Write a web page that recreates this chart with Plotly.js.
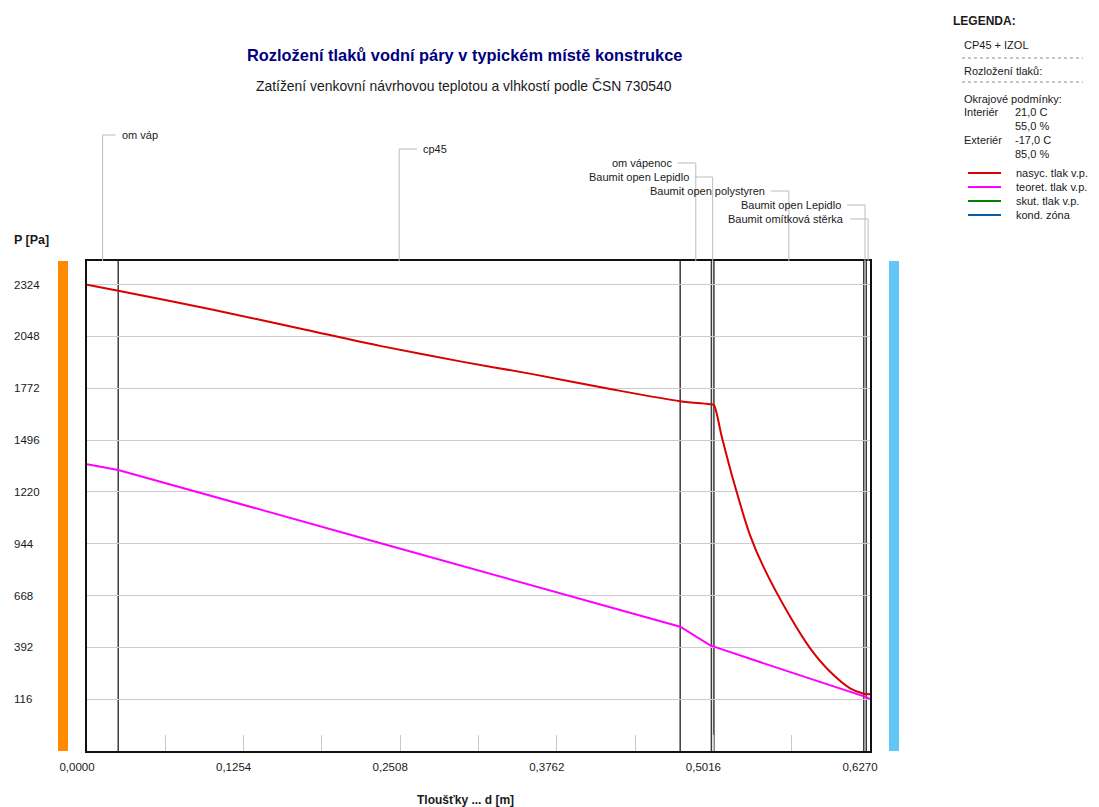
<!DOCTYPE html>
<html>
<head>
<meta charset="utf-8">
<script src="https://cdn.plot.ly/plotly-3.0.1.min.js"></script>
<style>
  html, body { margin: 0; padding: 0; background: #ffffff; }
  #chart { width: 1099px; height: 807px; }
</style>
</head>
<body>
<div id="chart"></div>
<script>
// Construction layers from interior to exterior, thickness in metres
const layerNames = ['om váp', 'cp45', 'om vápenoc', 'Baumit open Lepidlo',
                    'Baumit open polystyren', 'Baumit open Lepidlo', 'Baumit omítková stěrka'];
const layerThickness = [0.025, 0.45, 0.025, 0.002, 0.12, 0.002, 0.003];

// Saturated water vapour pressure [Pa] across the wall
const satDepth    = [0, 0.025, 0.1, 0.175, 0.2346, 0.3, 0.3547, 0.42, 0.475, 0.5, 0.502,
                     0.5083, 0.5175, 0.5309, 0.5416, 0.5631, 0.5791, 0.5951, 0.6111, 0.622, 0.624, 0.627];
const satPressure = [2324, 2292, 2192, 2084, 1998, 1914, 1850, 1767, 1703, 1686, 1683,
                     1514, 1283, 990, 822, 555, 387, 262, 174, 145, 143, 142];

// Theoretical water vapour pressure [Pa] across the wall
const theoDepth    = [0, 0.025, 0.2266, 0.475, 0.5, 0.502, 0.5523, 0.622, 0.624, 0.627];
const theoPressure = [1367, 1337, 963, 502, 399, 396, 284, 134, 127, 116];

// Axis ticks
const xTickVals = [0, 0.0627, 0.1254, 0.1881, 0.2508, 0.3135, 0.3762, 0.4389, 0.5016, 0.5643, 0.627];
const yTickVals = [116, 392, 668, 944, 1220, 1496, 1772, 2048, 2324];

// Texts
const chartTitle = 'Rozložení tlaků vodní páry v typickém místě konstrukce';
const chartSubtitle = 'Zatížení venkovní návrhovou teplotou a vlhkostí podle ČSN 730540';
const yAxisLabel = 'P [Pa]';
const xAxisLabel = 'Tloušťky ... d [m]';
const legendTitle = 'LEGENDA:';
const constructionName = 'CP45 + IZOL';
const sectionName = 'Rozložení tlaků:';
const boundaryHeading = 'Okrajové podmínky:';
const boundaryLabels = ['Interiér', '', 'Exteriér', ''];
const boundaryValues = ['21,0 C', '55,0 %', '-17,0 C', '85,0 %'];
const seriesNames = ['nasyc. tlak v.p.', 'teoret. tlak v.p.', 'skut. tlak v.p.', 'kond. zóna'];

// Styling
const seriesColors = ['#d80000', '#ff00ff', '#008000', '#0a5ea8'];
const FONT = 'Liberation Sans, Arial, sans-serif';
const TEXT = '#1a1a1a';
const LEADER = '#bdbdbd';

// Plot area geometry (pixels)
const W = 1099, H = 807;
const M = { l: 87, r: 229, t: 261, b: 56 };
const PW = W - M.l - M.r, PH = H - M.t - M.b;
const px = x => (x - M.l) / PW;          // page pixel -> paper x
const py = y => (H - M.b - y) / PH;      // page pixel -> paper y

const total = layerThickness.reduce((a, b) => a + b, 0);
const bounds = [0];
layerThickness.forEach(t => bounds.push(bounds[bounds.length - 1] + t));

const traces = [
  { x: satDepth, y: satPressure, type: 'scatter', mode: 'lines', name: seriesNames[0],
    line: { color: seriesColors[0], width: 2, shape: 'spline', smoothing: 0.8 }, hoverinfo: 'skip' },
  { x: theoDepth, y: theoPressure, type: 'scatter', mode: 'lines', name: seriesNames[1],
    line: { color: seriesColors[1], width: 2 }, hoverinfo: 'skip' }
];

const shapes = [];
const annotations = [];

// Layer boundaries inside the wall
bounds.slice(1, -1).forEach(b => {
  shapes.push({ type: 'line', xref: 'x', yref: 'paper', x0: b, x1: b, y0: 0, y1: 1,
                line: { color: '#3c3c3c', width: 1.5 }, layer: 'between' });
});

// Layer name leaders
layerNames.forEach((name, i) => {
  const mid = bounds[i] + layerThickness[i] / 2;
  const rowY = py(135 + 14 * i);
  const dir = i < 2 ? 1 : -1;
  const len = i === 0 ? 13 : 18;
  shapes.push({ type: 'line', xref: 'x', yref: 'paper', x0: mid, x1: mid, y0: 1, y1: rowY,
                line: { color: LEADER, width: 1 } });
  shapes.push({ type: 'line', xref: 'x', yref: 'paper', xsizemode: 'pixel', xanchor: mid,
                x0: 0, x1: dir * len, y0: rowY, y1: rowY, line: { color: LEADER, width: 1 } });
  annotations.push({ text: name, xref: 'x', yref: 'paper', x: mid, y: rowY, xshift: dir * (len + 4),
                     xanchor: dir > 0 ? 'left' : 'right', yanchor: 'middle', showarrow: false,
                     font: { family: FONT, size: 11, color: TEXT } });
});

// Interior / exterior side bars
shapes.push({ type: 'rect', xref: 'paper', yref: 'paper', x0: px(58), x1: px(68), y0: 0, y1: 1,
              fillcolor: '#ff8a00', line: { width: 0 } });
shapes.push({ type: 'rect', xref: 'paper', yref: 'paper', x0: px(889), x1: px(899), y0: 0, y1: 1,
              fillcolor: '#62c6f6', line: { width: 0 } });

// Y tick labels, left aligned
yTickVals.forEach(v => {
  annotations.push({ text: String(v), xref: 'paper', yref: 'y', x: px(12), y: v,
                     xanchor: 'left', yanchor: 'middle', showarrow: false,
                     font: { family: FONT, size: 11.5, color: TEXT } });
});

// Titles
annotations.push({ text: '<b>' + chartTitle + '</b>', xref: 'paper', yref: 'paper', x: px(464), y: py(55),
                   xanchor: 'center', yanchor: 'middle', showarrow: false,
                   font: { family: FONT, size: 16.4, color: '#000080' } });
annotations.push({ text: chartSubtitle, xref: 'paper', yref: 'paper', x: px(464), y: py(86),
                   xanchor: 'center', yanchor: 'middle', showarrow: false,
                   font: { family: FONT, size: 13.9, color: TEXT } });
annotations.push({ text: '<b>' + yAxisLabel + '</b>', xref: 'paper', yref: 'paper', x: px(12), y: py(240),
                   xanchor: 'left', yanchor: 'middle', showarrow: false,
                   font: { family: FONT, size: 12.5, color: TEXT } });
annotations.push({ text: '<b>' + xAxisLabel + '</b>', xref: 'paper', yref: 'paper', x: px(465), y: py(800),
                   xanchor: 'center', yanchor: 'middle', showarrow: false,
                   font: { family: FONT, size: 12, color: TEXT } });

// Legend panel
const legText = (t, x, y, size, bold) => annotations.push({
  text: bold ? '<b>' + t + '</b>' : t, xref: 'paper', yref: 'paper', x: px(x), y: py(y),
  xanchor: 'left', yanchor: 'middle', showarrow: false,
  font: { family: FONT, size: size, color: TEXT } });
legText(legendTitle, 951, 21, 12, true);
legText(constructionName, 962, 45, 11);
legText(sectionName, 962, 71, 11);
legText(boundaryHeading, 962, 99, 11);
boundaryValues.forEach((v, i) => {
  const y = 112 + 14 * i;
  if (boundaryLabels[i]) legText(boundaryLabels[i], 962, y, 11);
  legText(v, 1013, y, 11);
});
[58, 82].forEach(y => shapes.push({ type: 'line', xref: 'paper', yref: 'paper',
  x0: px(962), x1: px(1083), y0: py(y), y1: py(y), line: { color: '#8a8a8a', width: 1, dash: 'dot' } }));
seriesNames.forEach((n, i) => {
  const y = 173 + 14 * i;
  shapes.push({ type: 'line', xref: 'paper', yref: 'paper', x0: px(968), x1: px(1001),
                y0: py(y), y1: py(y), line: { color: seriesColors[i], width: 2 } });
  legText(n, 1014, y, 11);
});

const layout = {
  width: W, height: H,
  margin: M,
  paper_bgcolor: '#ffffff', plot_bgcolor: '#ffffff',
  showlegend: false,
  xaxis: {
    range: [0, total], tickvals: xTickVals,
    ticktext: xTickVals.map((v, i) => i % 2 === 0 ? v.toFixed(4).replace('.', ',') : ''),
    ticks: 'inside', ticklen: 16, tickwidth: 1, tickcolor: '#c8c8c8',
    ticklabelshift: -10, ticklabelstandoff: 4,
    tickfont: { family: FONT, size: 11.5, color: TEXT },
    showgrid: false, zeroline: false,
    showline: true, linecolor: '#111111', linewidth: 2, mirror: true
  },
  yaxis: {
    range: [-160, 2450], tickvals: yTickVals, showticklabels: false, ticks: '',
    showgrid: true, gridcolor: '#cdcdcd', gridwidth: 1, zeroline: false,
    showline: true, linecolor: '#111111', linewidth: 2, mirror: true
  },
  shapes: shapes,
  annotations: annotations
};

Plotly.newPlot('chart', traces, layout, { displayModeBar: false, staticPlot: true });
</script>
</body>
</html>
